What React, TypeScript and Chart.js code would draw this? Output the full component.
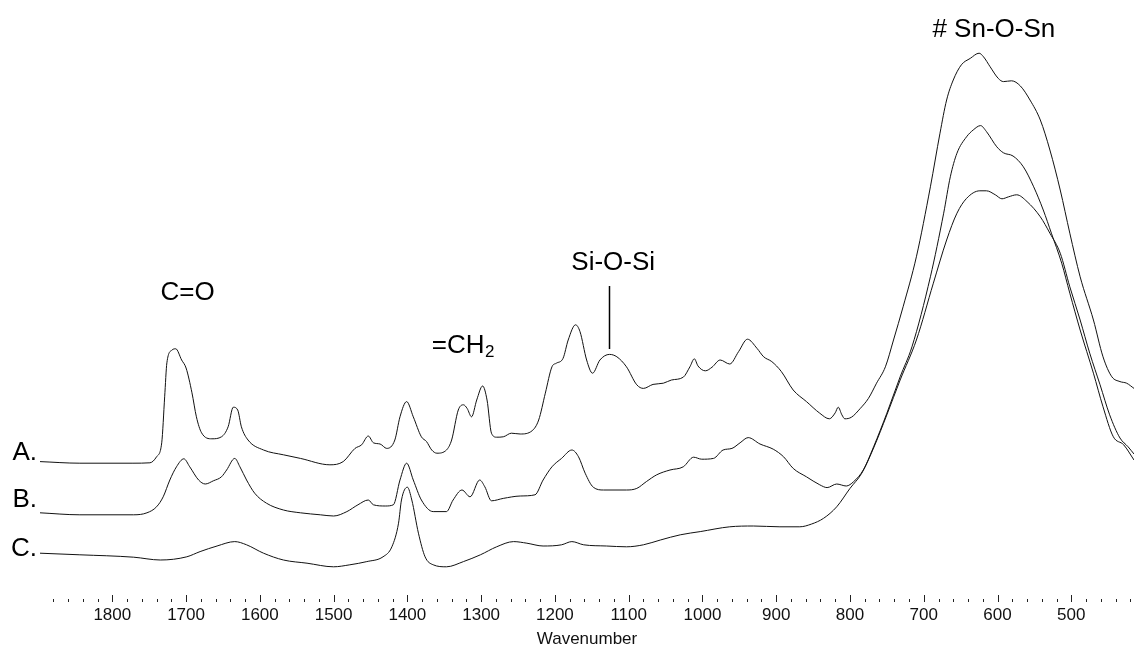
import React, { useEffect, useRef } from 'react';
import { Chart, registerables } from 'chart.js';

Chart.register(...registerables);

const FONT = '"Liberation Sans", Arial, Helvetica, sans-serif';

// Wavenumber (cm-1) and absorbance (arbitrary, offset) for each spectrum
const waveA = [1898,1844,1772,1749,1740,1733,1729,1726,1719,1714,1706,1700,1692,1686,1679,1665,1652,1643,1636,1630,1625,1616,1595,1568,1545,1505,1487,1471,1462,1453,1446,1437,1428,1417,1410,1401,1392,1381,1374,1367,1360,1347,1340,1331,1324,1319,1313,1306,1298,1292,1286,1279,1270,1259,1247,1231,1222,1213,1204,1198,1189,1182,1172,1166,1157,1149,1139,1126,1116,1103,1089,1080,1067,1053,1042,1026,1017,1011,1006,996,987,976,963,951,939,926,917,906,893,877,859,841,828,820,816,811,807,798,786,775,764,752,741,728,710,691,678,669,660,649,637,625,619,610,599,592,581,569,556,542,529,515,502,488,470,457,445,434,425,415];
const absA = [0.346,0.342,0.342,0.343,0.358,0.393,0.508,0.593,0.625,0.628,0.600,0.580,0.518,0.458,0.418,0.403,0.408,0.433,0.482,0.475,0.433,0.400,0.375,0.363,0.354,0.338,0.346,0.379,0.388,0.410,0.393,0.390,0.379,0.400,0.458,0.496,0.458,0.408,0.396,0.375,0.367,0.375,0.400,0.475,0.488,0.479,0.458,0.500,0.535,0.500,0.417,0.407,0.408,0.417,0.415,0.423,0.450,0.517,0.583,0.592,0.604,0.650,0.688,0.671,0.600,0.567,0.600,0.614,0.608,0.583,0.538,0.529,0.539,0.542,0.550,0.557,0.583,0.603,0.585,0.573,0.582,0.600,0.590,0.621,0.652,0.629,0.608,0.596,0.571,0.525,0.496,0.467,0.453,0.468,0.482,0.463,0.453,0.457,0.479,0.504,0.542,0.583,0.650,0.733,0.858,1.033,1.167,1.250,1.300,1.338,1.354,1.367,1.358,1.333,1.304,1.296,1.298,1.285,1.250,1.200,1.125,1.025,0.917,0.808,0.700,0.608,0.558,0.546,0.542,0.529];

const waveB = [1898,1844,1771,1753,1740,1731,1722,1713,1703,1695,1683,1674,1663,1652,1645,1634,1627,1618,1607,1591,1568,1545,1518,1500,1482,1467,1453,1446,1430,1419,1410,1401,1392,1381,1365,1347,1338,1326,1315,1302,1295,1286,1270,1247,1227,1216,1204,1191,1177,1168,1159,1148,1134,1103,1089,1076,1062,1044,1026,1012,1001,985,972,960,949,938,922,904,890,877,859,841,831,818,805,795,782,768,750,732,716,691,673,664,655,642,633,623,615,601,592,579,565,551,538,527,513,502,488,470,457,443,429,415];
const absB = [0.218,0.213,0.213,0.218,0.233,0.258,0.300,0.333,0.353,0.333,0.300,0.290,0.298,0.308,0.325,0.354,0.333,0.300,0.267,0.242,0.225,0.218,0.213,0.210,0.221,0.238,0.250,0.238,0.235,0.238,0.300,0.342,0.300,0.250,0.221,0.221,0.250,0.275,0.258,0.300,0.283,0.248,0.254,0.260,0.263,0.300,0.333,0.354,0.375,0.358,0.317,0.282,0.275,0.275,0.279,0.296,0.313,0.325,0.333,0.357,0.352,0.354,0.375,0.379,0.393,0.406,0.390,0.377,0.358,0.329,0.308,0.288,0.281,0.290,0.285,0.296,0.325,0.383,0.467,0.558,0.633,0.808,0.967,1.058,1.117,1.158,1.175,1.186,1.171,1.133,1.118,1.110,1.083,1.033,0.975,0.917,0.842,0.767,0.675,0.567,0.483,0.408,0.388,0.350];

const waveC = [1898,1844,1771,1735,1699,1681,1658,1634,1618,1595,1568,1536,1500,1478,1455,1433,1421,1412,1408,1400,1394,1385,1376,1365,1347,1324,1301,1279,1256,1238,1216,1191,1177,1161,1130,1103,1080,1057,1030,1003,963,931,895,868,852,836,818,800,784,768,750,732,710,687,669,655,642,624,615,603,594,585,574,560,542,529,515,502,488,475,461,448,434,423,415];
const absC = [0.117,0.113,0.107,0.100,0.108,0.121,0.135,0.146,0.138,0.117,0.100,0.092,0.083,0.088,0.096,0.108,0.133,0.192,0.250,0.282,0.250,0.167,0.108,0.088,0.083,0.096,0.113,0.133,0.146,0.142,0.135,0.138,0.146,0.138,0.135,0.133,0.138,0.150,0.163,0.171,0.183,0.185,0.183,0.183,0.190,0.204,0.233,0.279,0.317,0.380,0.463,0.550,0.650,0.792,0.900,0.967,1.004,1.023,1.023,1.013,1.003,1.008,1.013,0.996,0.958,0.917,0.867,0.783,0.700,0.617,0.538,0.463,0.405,0.383,0.365];

// Axis
const majorTicks = [1800,1700,1600,1500,1400,1300,1200,1100,1000,900,800,700,600,500];
const minorTickFrom = 1880;
const minorTickTo = 420;
const minorTickStep = 20;

// Series labels
const seriesLabels = ['A.', 'B.', 'C.'];
const seriesLabelAbs = [0.35, 0.2325, 0.11];

// Band annotations
const bandText = ['C=O', '=CH', 'Si-O-Si', '# Sn-O-Sn'];
const bandSub = ['', '2', '', ''];
const bandWave = [1698, 1367, 1121, 605];
const bandAbs = [0.75, 0.6175, 0.825, 1.4075];
const bandAlign = ['center', 'left', 'center', 'center'];
const markerWave = 1127;
const markerAbs = [0.785, 0.6275];

const overlay = {
  id: 'overlay',
  afterDraw(chart: any) {
    const { ctx, scales } = chart;
    const x = scales.x;
    const y = scales.y;
    const base = chart.chartArea.bottom;
    ctx.save();
    // tick marks
    ctx.strokeStyle = '#222';
    ctx.lineWidth = 1;
    for (let w = minorTickFrom; w >= minorTickTo; w -= minorTickStep) {
      const px = Math.round(x.getPixelForValue(w)) + 0.5;
      const major = w % 100 === 0;
      ctx.beginPath();
      ctx.moveTo(px, base + 2);
      ctx.lineTo(px, base - (major ? 5 : 1));
      ctx.stroke();
    }
    ctx.fillStyle = '#000';
    ctx.textBaseline = 'alphabetic';
    // series labels
    ctx.font = `26px ${FONT}`;
    ctx.textAlign = 'right';
    const left = x.getPixelForValue(waveA[0]);
    seriesLabels.forEach((t, i) => {
      ctx.fillText(t, left - 3, y.getPixelForValue(seriesLabelAbs[i]));
    });
    // band labels
    bandText.forEach((t, i) => {
      ctx.font = `26px ${FONT}`;
      ctx.textAlign = bandAlign[i];
      const px = x.getPixelForValue(bandWave[i]);
      const py = y.getPixelForValue(bandAbs[i]);
      ctx.fillText(t, px, py);
      if (bandSub[i]) {
        const wdt = ctx.measureText(t).width;
        ctx.font = `17px ${FONT}`;
        ctx.textAlign = 'left';
        ctx.fillText(bandSub[i], px + wdt + 0.5, py + 4);
      }
    });
    // Si-O-Si marker
    const mx = Math.round(x.getPixelForValue(markerWave)) + 0.5;
    ctx.strokeStyle = '#000';
    ctx.lineWidth = 1.5;
    ctx.beginPath();
    ctx.moveTo(mx, y.getPixelForValue(markerAbs[0]));
    ctx.lineTo(mx, y.getPixelForValue(markerAbs[1]));
    ctx.stroke();
    ctx.restore();
  },
};

function toPoints(w: number[], a: number[]) {
  return w.map((v, i) => ({ x: v, y: a[i] }));
}

export default function App() {
  const ref = useRef<HTMLCanvasElement>(null);
  useEffect(() => {
    const ds = (label: string, w: number[], a: number[]) => ({
      label,
      data: toPoints(w, a),
      borderColor: '#111',
      borderWidth: 1,
      pointRadius: 0,
      fill: false,
      cubicInterpolationMode: 'monotone' as const,
    });
    const chart = new Chart(ref.current!, {
      type: 'line',
      data: {
        datasets: [ds('A', waveA, absA), ds('B', waveB, absB), ds('C', waveC, absC)],
      },
      options: {
        animation: false,
        responsive: true,
        maintainAspectRatio: false,
        layout: { padding: { left: 40, right: 0, top: 0, bottom: 0 } },
        plugins: { legend: { display: false }, tooltip: { enabled: false } },
        scales: {
          x: {
            type: 'linear',
            reverse: true,
            min: 415,
            max: 1898,
            afterBuildTicks: (s: any) => {
              s.ticks = majorTicks.map((v) => ({ value: v }));
            },
            afterFit: (s: any) => {
              s.height = 46;
            },
            grid: { display: false, drawTicks: false },
            border: { display: false },
            ticks: {
              padding: 5,
              color: '#111',
              font: { family: FONT, size: 17 },
              autoSkip: false,
              maxRotation: 0,
              callback: (v: any) => String(v),
            },
            title: {
              display: true,
              text: 'Wavenumber',
              color: '#111',
              font: { family: FONT, size: 17, lineHeight: 1 },
              padding: { top: 0, bottom: -2 },
            },
          },
          y: { display: false, min: 0, max: 1.5 },
        },
      },
      plugins: [overlay],
    });
    return () => chart.destroy();
  }, []);
  return (
    <div style={{ position: 'fixed', left: 0, top: 0, width: 1134, height: 646, background: '#fff' }}>
      <canvas ref={ref} />
    </div>
  );
}
